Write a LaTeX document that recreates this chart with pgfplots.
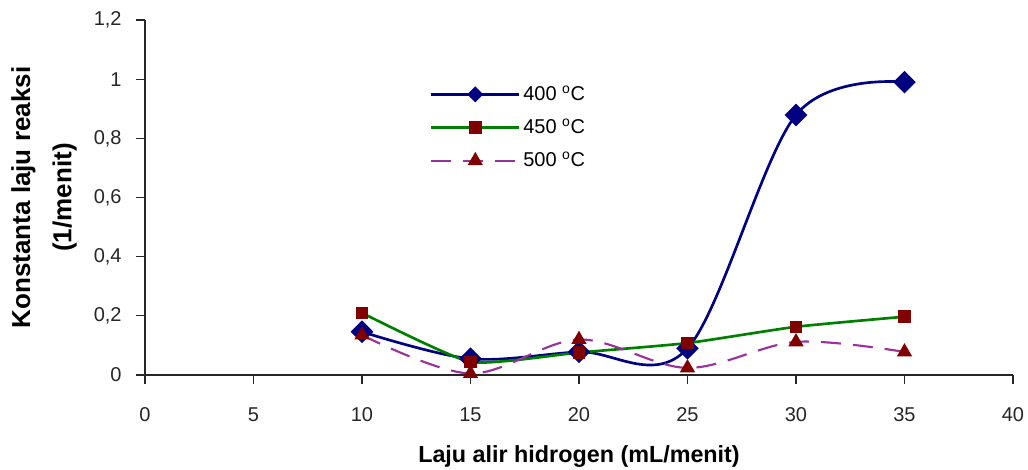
\documentclass[border=0pt]{standalone}
\usepackage{fontspec}
\setmainfont{Liberation Sans}
\usepackage{pgfplots}
\pgfplotsset{compat=1.18}
\definecolor{cnavy}{RGB}{0,0,128}
\definecolor{cgreen}{RGB}{0,128,0}
\definecolor{cdred}{RGB}{128,0,0}
\definecolor{cpurple}{RGB}{153,51,153}
\begin{document}
\begin{tikzpicture}
\path[use as bounding box] (-108.75pt,-71.25pt) rectangle (662.25pt,281.25pt);
\begin{axis}[
  at={(0,0)}, anchor=south west,
  scale only axis, width=651pt, height=266.25pt,
  xmin=0, xmax=40, ymin=0, ymax=1.2,
  axis x line*=bottom, axis y line*=left,
  axis line style={-, black!85, line width=0.8pt},
  xtick={0,5,...,40}, ytick={0,0.2,...,1.2},
  tick align=outside, major tick length=7pt,
  every tick/.style={black!85, line width=0.8pt},
  minor tick num=0,
  /pgf/number format/assume math mode=true,
  /pgf/number format/use comma,
  /pgf/number format/fixed, /pgf/number format/precision=1,
  ticklabel style={font=\fontsize{15pt}{17pt}\selectfont, text=black!85},
  xticklabel style={yshift=-14pt},
  yticklabel style={xshift=-7pt},
  xlabel={Laju alir hidrogen (mL/menit)},
  ylabel={Konstanta laju reaksi\\(1/menit)},
  xlabel style={font=\bfseries\fontsize{17.5pt}{20pt}\selectfont, at={(axis description cs:0.5,0)}, anchor=center, yshift=-61pt},
  ylabel style={font=\bfseries\fontsize{19.5pt}{31pt}\selectfont, align=center, at={(axis description cs:-0.1164,0.5)}, anchor=center},
  legend style={draw=none, fill=none, at={(axis description cs:0.328,0.822)}, anchor=north west,
     font=\fontsize{15pt}{17pt}\selectfont, row sep=8.5pt, inner sep=0pt},
  legend cell align=left,
  legend image code/.code={\draw[mark repeat=2, mark phase=2] plot coordinates {(0pt,0pt) (33pt,0pt) (66pt,0pt)};},
  clip=false,
]
\addplot[cnavy, line width=2pt, smooth, tension=0.55, mark=square*, mark size=5pt,
  mark options={rotate=45, solid, fill=cnavy, draw=cnavy},
  legend image code/.code={\draw[mark repeat=2, mark phase=2, every mark/.append style={scale=0.65}] plot coordinates {(0pt,0pt) (33pt,0pt) (66pt,0pt)};}]
  coordinates {(10,0.146) (15,0.055) (20,0.078) (25,0.09) (30,0.879) (35,0.99)};
\addlegendentry{400 \textsuperscript{o}C}
\addplot[cgreen, line width=2pt, smooth, tension=0.3, mark=square*, mark size=3.7pt,
  mark options={solid, fill=cdred, draw=cdred}]
  coordinates {(10,0.21) (15,0.044) (20,0.076) (25,0.108) (30,0.163) (35,0.197)};
\addlegendentry{450 \textsuperscript{o}C}
\addplot[cpurple, line width=1.6pt, dash pattern=on 15pt off 9pt, smooth, tension=0.55, mark=triangle*, mark size=5pt,
  mark options={solid, fill=cdred, draw=cdred}]
  coordinates {(10,0.135) (15,0.005) (20,0.12) (25,0.024) (30,0.112) (35,0.078)};
\addlegendentry{500 \textsuperscript{o}C}
\end{axis}
\end{tikzpicture}
\end{document}
